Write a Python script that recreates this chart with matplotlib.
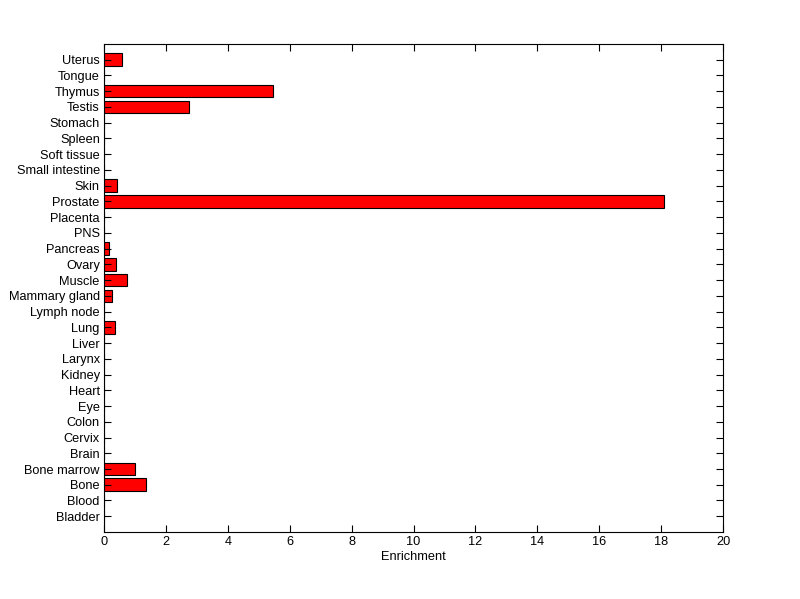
import numpy as np
import matplotlib.pyplot as plt

tissues = ['Bladder', 'Blood', 'Bone', 'Bone marrow', 'Brain', 'Cervix', 'Colon',
           'Eye', 'Heart', 'Kidney', 'Larynx', 'Liver', 'Lung', 'Lymph node',
           'Mammary gland', 'Muscle', 'Ovary', 'Pancreas', 'PNS', 'Placenta',
           'Prostate', 'Skin', 'Small intestine', 'Soft tissue', 'Spleen',
           'Stomach', 'Testis', 'Thymus', 'Tongue', 'Uterus']
enrichment = [0, 0, 1.35, 1.01, 0, 0, 0,
              0, 0, 0, 0, 0, 0.37, 0,
              0.27, 0.75, 0.40, 0.17, 0, 0,
              18.08, 0.43, 0, 0, 0,
              0, 2.74, 5.45, 0, 0.59]
xticks = [0, 2, 4, 6, 8, 10, 12, 14, 16, 18, 20]

plt.rcParams['font.family'] = ['Liberation Sans', 'DejaVu Sans']
fig = plt.figure(figsize=(8, 5.99), dpi=100)
ax = fig.add_axes([0.13, 0.1119, 0.7738, 0.8147])

y = np.arange(1, len(tissues) + 1)
ax.barh(y, enrichment, height=0.8, color='#ff0000', edgecolor='black', linewidth=0.8)

ax.set_xlim(0, 20)
ax.set_ylim(0, len(tissues) + 1)
ax.set_xticks(xticks)
ax.set_yticks(y)
ax.set_yticklabels(tissues)
ax.set_xlabel('Enrichment', fontsize=9.2, labelpad=2)
ax.tick_params(direction='in', top=True, right=True, length=5, width=0.8,
               labelsize=9.2, pad=3)
for s in ax.spines.values():
    s.set_linewidth(0.8)

fig.savefig('out.png', dpi=100)
